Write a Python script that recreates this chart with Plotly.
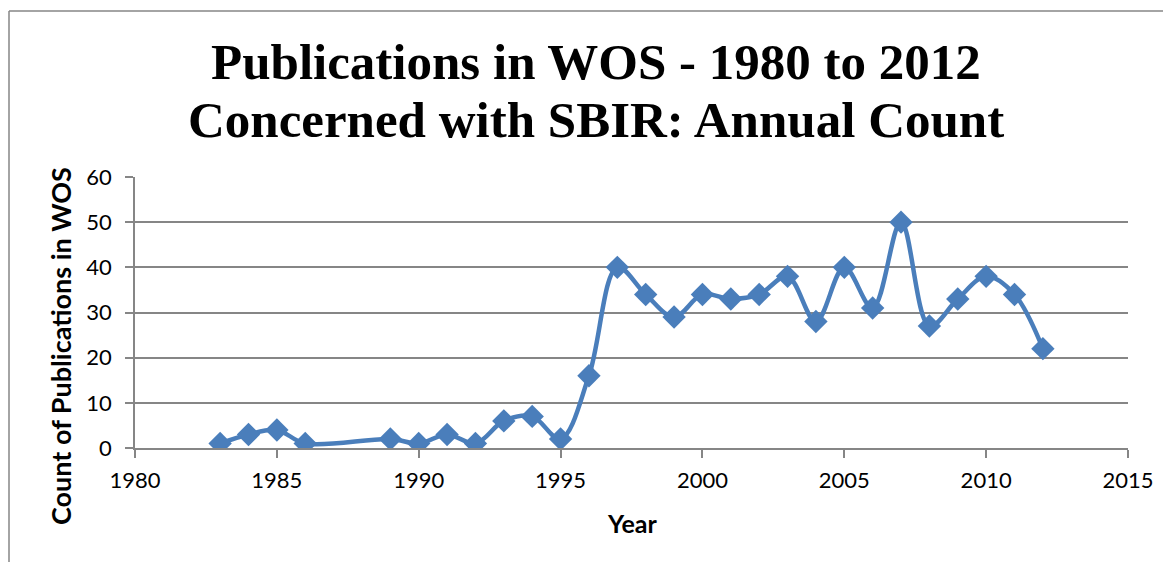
import plotly.graph_objects as go

years = [1983, 1984, 1985, 1986, 1989, 1990, 1991, 1992, 1993, 1994, 1995, 1996, 1997, 1998, 1999,
         2000, 2001, 2002, 2003, 2004, 2005, 2006, 2007, 2008, 2009, 2010, 2011, 2012]
counts = [1, 3, 4, 1, 2, 1, 3, 1, 6, 7, 2, 16, 40, 34, 29,
          34, 33, 34, 38, 28, 40, 31, 50, 27, 33, 38, 34, 22]

x_ticks = [1980, 1985, 1990, 1995, 2000, 2005, 2010, 2015]
y_ticks = [0, 10, 20, 30, 40, 50, 60]

title_lines = ["Publications in WOS - 1980 to 2012", "Concerned with SBIR: Annual Count"]
x_title = "Year"
y_title = "Count of Publications in WOS"

FONT = "Lato, Carlito, Calibri, sans-serif"
TFONT = "Liberation Serif, Cambria, serif"
BLUE = "#4A7EBB"
GRID = "#868686"

fig = go.Figure()
fig.add_trace(go.Scatter(
    x=years, y=counts, mode="lines+markers",
    line=dict(color=BLUE, width=4.5, shape="spline", smoothing=1.0),
    marker=dict(symbol="diamond", size=18, color=BLUE),
    showlegend=False,
))

# page offset of the figure (body margin) is 8px
OFF = 8
W, H = 1163, 554
L = 135 - OFF
T = 177 - OFF
R = W - (1128 - OFF)
B = H - (448 - OFF)
pw, ph = W - L - R, H - T - B


def px_x(page_x):
    return (page_x - OFF - L) / pw


def px_y(page_y):
    return 1 + (T - (page_y - OFF)) / ph


fig.update_layout(
    width=W, height=H,
    margin=dict(l=L, r=R, t=T, b=B),
    paper_bgcolor="white", plot_bgcolor="white",
    font=dict(family=FONT, color="black"),
    xaxis=dict(
        range=[1980, 2015], tickvals=x_ticks, ticktext=[str(v) for v in x_ticks],
        showgrid=False, zeroline=False,
        showline=True, linecolor=GRID, linewidth=1.5,
        ticks="outside", ticklen=8, tickcolor=GRID, tickwidth=1.5,
        ticklabelstandoff=4,
        tickfont=dict(family=FONT, size=22, color="black"),
    ),
    yaxis=dict(
        range=[0, 60], tickvals=y_ticks, ticktext=[str(v) for v in y_ticks],
        showgrid=True, gridcolor=GRID, gridwidth=1.5, zeroline=False,
        showline=True, linecolor=GRID, linewidth=1.5,
        ticks="outside", ticklen=8, tickcolor=GRID, tickwidth=1.5,
        ticklabelstandoff=9,
        tickfont=dict(family=FONT, size=22, color="black"),
    ),
)

# chart title (two lines, Excel-style spacing)
for line, yc in zip(title_lines, [62, 120]):
    fig.add_annotation(
        text="<b>%s</b>" % line, xref="paper", yref="paper",
        x=px_x(596), y=px_y(yc), xanchor="center", yanchor="middle",
        showarrow=False, font=dict(family=TFONT, size=51, color="black"),
    )

# axis titles
fig.add_annotation(
    text="<b>%s</b>" % x_title, xref="paper", yref="paper",
    x=px_x(632), y=px_y(523), xanchor="center", yanchor="middle",
    showarrow=False, font=dict(family=FONT, size=25, color="black"),
)
fig.add_annotation(
    text="<b>%s</b>" % y_title, xref="paper", yref="paper",
    x=px_x(60), y=px_y(346), xanchor="center", yanchor="middle", textangle=-90,
    showarrow=False, font=dict(family=FONT, size=27, color="black"),
)

# outer chart border (left and top edges)
bx = px_x(9)
by = px_y(11)
fig.add_shape(type="line", xref="paper", yref="paper", x0=bx, x1=bx, y0=by, y1=-1, line=dict(color=GRID, width=1.5))
fig.add_shape(type="line", xref="paper", yref="paper", x0=bx, x1=1.2, y0=by, y1=by, line=dict(color=GRID, width=1.5))

fig.write_html("out.html")
